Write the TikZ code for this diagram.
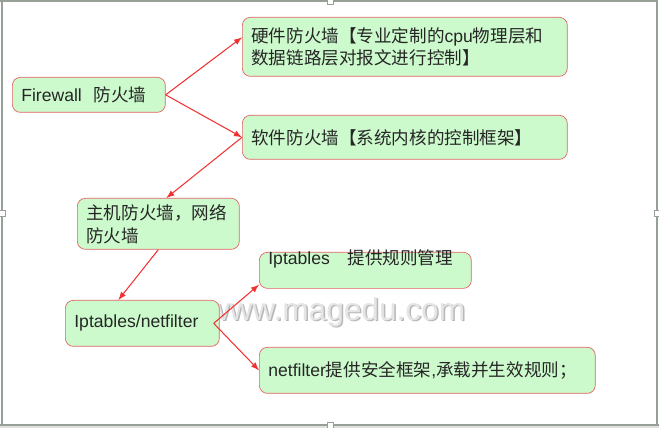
\documentclass[tikz,border=0pt]{standalone}
\usepackage{fontspec}
\setmainfont{Liberation Sans}
\newfontfamily\cjk{Noto Sans CJK SC}
\definecolor{boxfill}{RGB}{204,250,204}
\definecolor{boxline}{RGB}{226,100,100}
\definecolor{arrred}{RGB}{240,50,50}
\definecolor{framegray}{RGB}{150,160,150}
\begin{document}
\begin{tikzpicture}[x=.02cm, y=-.02cm, >=latex,
	box/.style={draw=boxline, fill=boxfill, rounded corners=.16cm, anchor=north west,
		inner xsep=.18cm, align=left, text=black!85, font=\fontsize{10pt}{13pt}\selectfont},
	arr/.style={->, draw=arrred, semithick, shorten >=0pt}]
	%marco%
	\useasboundingbox (0,0) rectangle (659,428);
	\fill [framegray!30] (0,425) rectangle (659,428);
	\draw [framegray, thick] (0,1)--(657,1)--(657,425) (2,0)--(2,425) (0,425)--(659,425);
	\foreach \p in {(330,1),(2,213),(657,213),(330,425)}
		\filldraw [draw=framegray, fill=white] \p ++(-3,-3) rectangle ++(6,6);
	%marca de agua%
	\node [text=black!28, font=\fontsize{18pt}{18pt}\selectfont] (wmsh) at (337.5,313.5) {www.magedu.com};
	\node [text=black!10, font=\fontsize{18pt}{18pt}\selectfont] (wm) at (336,312) {www.magedu.com};
	%cajas%
	\node [box, minimum width=3.06cm, minimum height=.7cm, text width=2.7cm] (fw) at (12,77) {Firewall\ \ {\cjk 防火墙}};
	\node [box, minimum width=6.5cm, minimum height=1.18cm, text width=6.14cm] (hard) at (242,17)
		{\cjk 硬件防火墙【专业定制的{\rmfamily cpu}物理层和\\数据链路层对报文进行控制】};
	\node [box, minimum width=6.5cm, minimum height=.88cm, text width=6.14cm] (soft) at (242,115)
		{\cjk 软件防火墙【系统内核的控制框架】};
	\node [box, minimum width=3.24cm, minimum height=.84cm, text width=2.88cm] (host) at (77,198)
		{\cjk 主机防火墙，网络\\防火墙};
	\node [box, minimum width=3.08cm, minimum height=.92cm, text width=2.72cm] (ipnf) at (65,300) {Iptables/netfilter};
	\node [box, minimum width=4.24cm, inner ysep=.5pt, text height=6.5pt, text depth=13pt, text width=3.88cm] (ipt) at (259,252)
		{Iptables\ \ \ {\cjk 提供规则管理}};
	\node [box, minimum width=6.72cm, minimum height=.92cm, text width=6.36cm] (nf) at (259,347)
		{netfilter{\cjk 提供安全框架}{,}{\cjk 承载并生效规则；}};
	%flechas%
	\draw [arr] (fw.east) -- ([yshift=.19cm]hard.west);
	\draw [arr] (fw.east) -- (soft.west);
	\draw [arr] (soft.west) -- ([xshift=.16cm]host.north);
	\draw [arr] (host.south) -- ([xshift=-.48cm]ipnf.north);
	\draw [arr] ([xshift=-.12cm]ipnf.east) -- ([yshift=.08cm]ipt.south west);
	\draw [arr] ([xshift=-.12cm]ipnf.east) -- (nf.west);
\end{tikzpicture}
\end{document}
